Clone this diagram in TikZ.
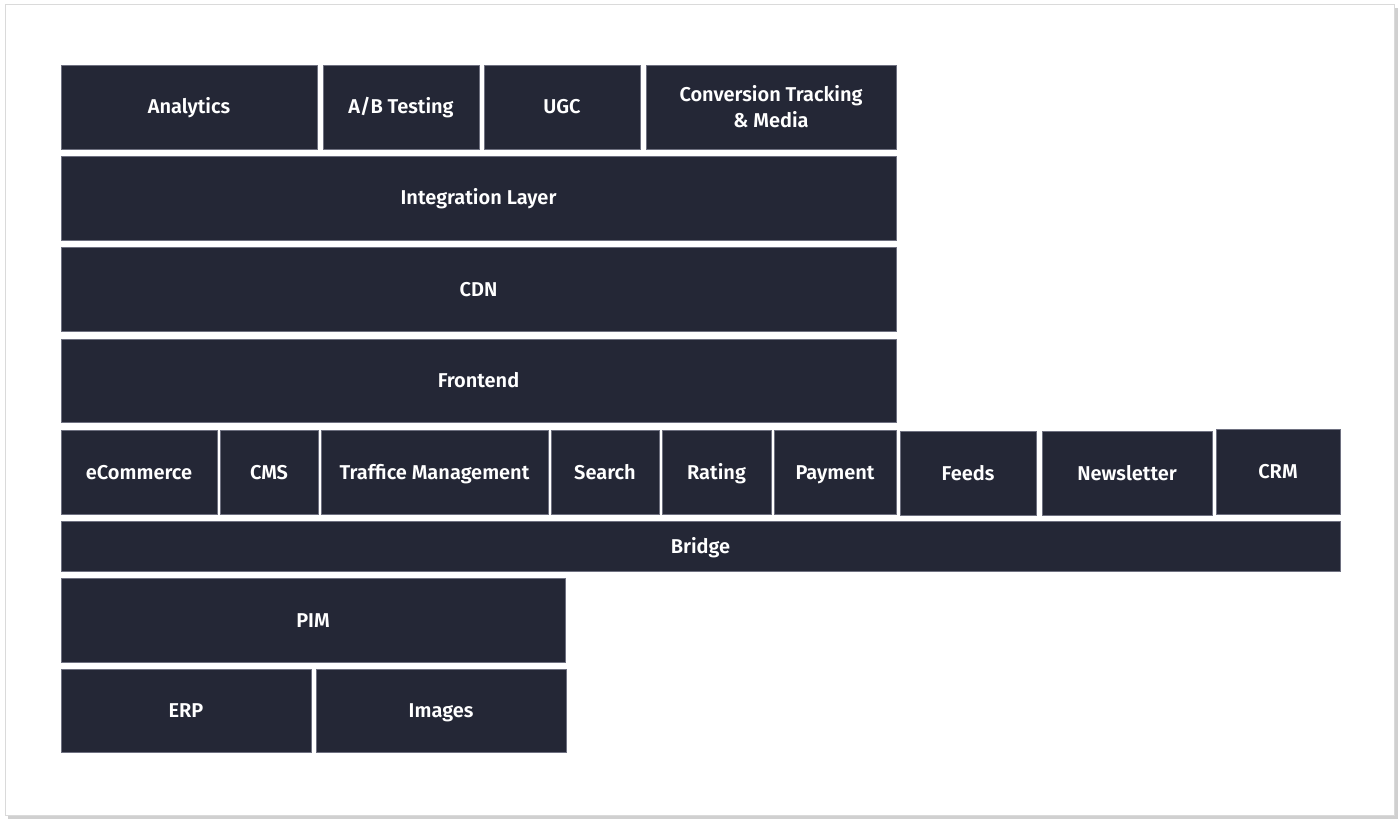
\documentclass[tikz,border=0pt]{standalone}
\usepackage{fontspec}
\setmainfont{Fira Sans}[BoldFont={Fira Sans SemiBold}]
\definecolor{boxfill}{HTML}{242736}
\definecolor{boxline}{HTML}{6E7080}
\definecolor{cardline}{HTML}{DADADA}
\definecolor{cardshadow}{HTML}{D0D0D0}
\tikzset{
  blk/.style={draw=boxline, line width=0.8pt, fill=boxfill, text=white,
    inner sep=0pt, align=center, text height=14pt, text depth=0pt,
    font=\bfseries\fontsize{20}{26}\selectfont},
}
\begin{document}
\begin{tikzpicture}[x=1pt,y=-1pt]
  \useasboundingbox (0,0) rectangle (1400,821);
  % card
  \fill[cardshadow] (8,8) rectangle (1398,819);
  \draw[cardline, fill=white] (5,4) rectangle (1394,815);

  % top row
  \node[blk, minimum width=256, minimum height=84] (ana) at (189,107) {Analytics};
  \node[blk, minimum width=156, minimum height=84] (ab) at (401,107) {A/B Testing};
  \node[blk, minimum width=156, minimum height=84] (ugc) at (562,107) {UGC};
  \node[blk, text height=, text depth=, minimum width=250, minimum height=84] (conv) at (771,107) {Conversion Tracking\\\& Media};

  \node[blk, minimum width=835, minimum height=84] (integ) at (478.5,198) {Integration Layer};
  \node[blk, minimum width=835, minimum height=84] (cdn) at (478.5,289) {CDN};
  \node[blk, minimum width=835, minimum height=83] (front) at (478.5,380.5) {Frontend};

  % services
  \node[blk, minimum width=156, minimum height=84] (ecom) at (139,472) {eCommerce};
  \node[blk, minimum width=98, minimum height=84] (cms) at (269,472) {CMS};
  \node[blk, minimum width=227, minimum height=84] (traf) at (434.5,472) {Traffice Management};
  \node[blk, minimum width=108, minimum height=84] (search) at (605,472) {Search};
  \node[blk, minimum width=109, minimum height=84] (rating) at (716.5,472) {Rating};
  \node[blk, minimum width=122, minimum height=84] (pay) at (835,472) {Payment};
  \node[blk, minimum width=136, minimum height=84] (feeds) at (968,473) {Feeds};
  \node[blk, minimum width=170, minimum height=84] (news) at (1127,473) {Newsletter};
  \node[blk, minimum width=124, minimum height=85] (crm) at (1278,471.5) {CRM};

  \node[blk, minimum width=1279, minimum height=50] (bridge) at (700.5,546) {Bridge};

  % backend
  \node[blk, minimum width=504, minimum height=84] (pim) at (313,620) {PIM};
  \node[blk, minimum width=250, minimum height=83] (erp) at (186,710.5) {ERP};
  \node[blk, minimum width=250, minimum height=83] (img) at (441,710.5) {Images};
\end{tikzpicture}
\end{document}
